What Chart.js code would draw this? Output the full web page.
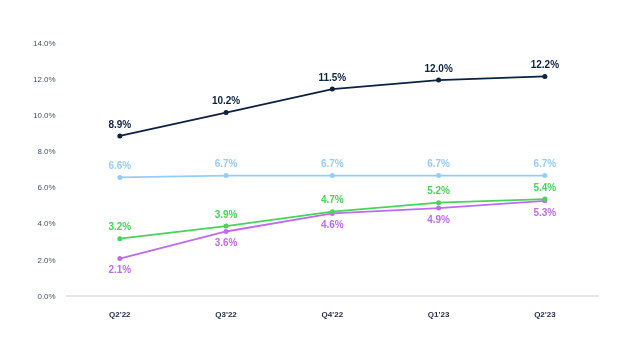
<!DOCTYPE html>
<html><head><meta charset="utf-8">
<script src="https://cdn.jsdelivr.net/npm/chart.js@4"></script>
<style>html,body{margin:0;padding:0;background:#fff}#wrap{width:640px;height:355px}</style>
</head><body><div id="wrap"><canvas id="c" width="640" height="355"></canvas></div>
<script>
const categories = ["Q2'22", "Q3'22", "Q4'22", "Q1'23", "Q2'23"];
const seriesDark = [8.9, 10.2, 11.5, 12.0, 12.2];
const seriesLight = [6.6, 6.7, 6.7, 6.7, 6.7];
const seriesGreen = [3.2, 3.9, 4.7, 5.2, 5.4];
const seriesPurple = [2.1, 3.6, 4.6, 4.9, 5.3];
const yTicks = [0, 2, 4, 6, 8, 10, 12, 14];

const labelPlugin = {
  id: 'pointLabels',
  afterDatasetsDraw(chart) {
    const ctx = chart.ctx;
    chart.data.datasets.forEach((ds, i) => {
      const meta = chart.getDatasetMeta(i);
      ctx.save();
      ctx.font = 'bold 10px "Liberation Sans", Arial, sans-serif';
      ctx.fillStyle = ds.labelColor;
      ctx.textAlign = 'center';
      ctx.textBaseline = 'middle';
      meta.data.forEach((pt, j) => {
        const off = ds.labelPos === 'below' ? 12 : -11;
        ctx.fillText(ds.data[j].toFixed(1) + '%', pt.x, pt.y + off);
      });
      ctx.restore();
    });
  }
};

function ds(data, color, labelColor, pos) {
  return {data, borderColor: color, backgroundColor: color, pointBackgroundColor: color,
    pointBorderColor: color, borderWidth: 1.8, pointRadius: 2.5, pointBorderWidth: 0, pointHoverRadius: 2.5,
    tension: 0, labelColor, labelPos: pos};
}

new Chart(document.getElementById('c'), {
  type: 'line',
  data: {
    labels: categories,
    datasets: [
      ds(seriesDark, '#0d2240', '#0d2240', 'above'),
      ds(seriesLight, '#97cdf5', '#97cdf5', 'above'),
      ds(seriesGreen, '#48d35a', '#48d35a', 'above'),
      ds(seriesPurple, '#bd6cf2', '#bd6cf2', 'below')
    ]
  },
  options: {
    responsive: false,
    animation: false,
    devicePixelRatio: 1,
    layout: {padding: {left: 22, right: 42, top: 44, bottom: 21}},
    plugins: {legend: {display: false}, tooltip: {enabled: false}},
    scales: {
      x: {
        offset: true,
        grid: {display: false, drawTicks: false},
        border: {display: true, color: '#e6e6e6', width: 2},
        ticks: {padding: 14, color: '#1c2b48', font: {family: '"Liberation Sans", Arial, sans-serif', size: 8, weight: 'bold'}}
      },
      y: {
        min: 0, max: 14,
        afterBuildTicks(axis) { axis.ticks = yTicks.map(v => ({value: v})); },
        grid: {display: false, drawTicks: false},
        border: {display: false},
        ticks: {padding: 11, color: '#44546a', font: {family: '"Liberation Sans", Arial, sans-serif', size: 8},
          callback: v => v.toFixed(1) + '%'}
      }
    }
  },
  plugins: [labelPlugin]
});
</script></body></html>
